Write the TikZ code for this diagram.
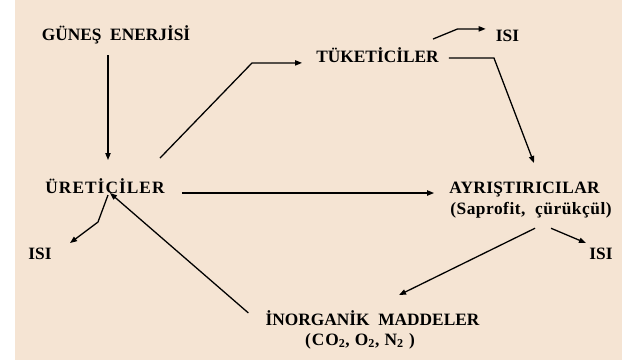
\documentclass[tikz,border=0pt]{standalone}
\usepackage{fontspec}
\setmainfont{Liberation Serif}
\usetikzlibrary{arrows.meta,calc}

\definecolor{paper}{RGB}{245,228,211}

\begin{document}
\begin{tikzpicture}[
  x=0.03cm, y=-0.03cm,
  lbl/.style={font=\bfseries\fontsize{14.8}{17}\selectfont, inner sep=0pt,
              text height=10pt, text depth=3pt, anchor=base},
  wide/.style={lbl, font=\bfseries\fontsize{14.8}{17}\selectfont
               \addfontfeature{LetterSpace=#1}},
  flow/.style={-{Triangle[length=6pt,width=4.5pt]}, line width=1.1pt},
]
% page and coloured sheet
\useasboundingbox (0,0) rectangle (622,360);
\fill[white] (0,0) rectangle (622,360);
\fill[paper] (15,0) rectangle (622,360);

% stations of the cycle
\node[lbl]     (gunes) at (116,40)  {GÜNEŞ~~ENERJİSİ};
\node[wide=6]  (ure)   at (105,193) {ÜRETİCİLER};
\node[lbl]     (tuk)   at (377.5,62) {TÜKETİCİLER};
\node[wide=2]  (ayr)   at (524.5,193) {AYRIŞTIRICILAR};
\node[wide=3]  (sap)   at (531,214) {(Saprofit,~~çürükçül)};
\node[lbl]     (inorg) at (372.5,325) {İNORGANİK~~MADDELER};
\node[wide=5]  (gaz)   at (360,345) {(CO\textsubscript{2}, O\textsubscript{2}, N\textsubscript{2} )};
\node[lbl]     (isiT)  at (507.5,41) {ISI};
\node[lbl]     (isiR)  at (601,259) {ISI};
\node[lbl]     (isiL)  at (40,259)  {ISI};

% energy and matter flow
\draw[flow] ($(gunes.south)+(-8,11.5)$) -- ($(ure.north)+(3,-21)$);
\draw[flow] ($(ure.north)+(55,-23)$) -- ($(tuk.west)+(-64,5)$)
  -- ($(tuk.west)+(-14,5)$);
\draw[flow] ($(tuk.north)+(55.5,-11)$) -- ($(isiT.west)+(-38,-8)$)
  -- ($(isiT.west)+(-10,-8)$);
\draw[flow] ($(tuk.east)+(10,0)$) -- ($(tuk.east)+(55,0)$)
  -- ($(ayr.north)+(9.5,-18)$);
\draw[flow] ($(ure.base east)+(17,0)$) -- ($(ayr.base west)+(-15,0)$);
\draw[flow] ($(sap.south)+(20,10.5)$) -- ($(isiR.north)+(-15,-4)$);
\draw[flow] ($(sap.south)+(4,10.5)$) -- ($(inorg.north)+(26.5,-18)$);
\draw[flow] ($(inorg.west)+(-17,-8)$) -- ($(ure.base)+(5,0)$);
\draw[flow] ($(ure.base)+(3,2)$) -- ($(ure.base)+(-7,29)$)
  -- ($(isiL.north)+(30,-4)$);
\end{tikzpicture}
\end{document}
